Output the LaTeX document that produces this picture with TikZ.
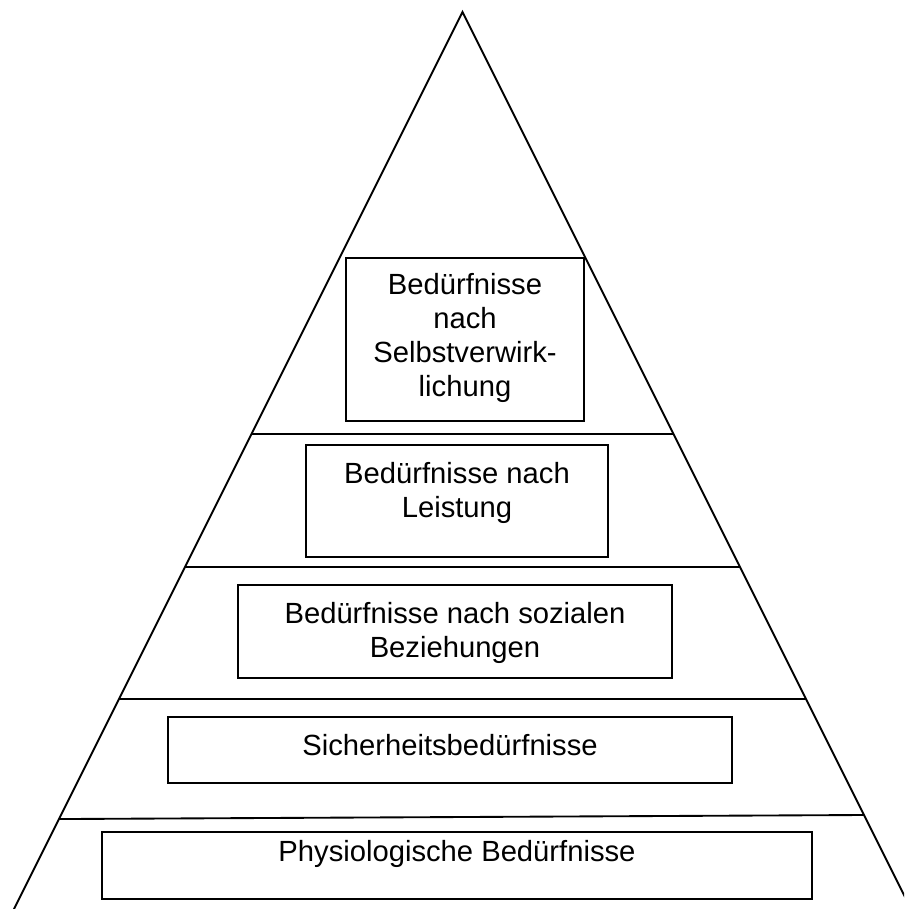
\documentclass[tikz,border=0pt]{standalone}
\usepackage{fontspec}
\setmainfont{Liberation Sans}
\usetikzlibrary{calc}
\begin{document}
\begin{tikzpicture}[x=0.75pt,y=-0.75pt,
  edge/.style={line width=1.4pt,line cap=round,line join=miter},
  level/.style={line width=1.4pt},
  box/.style={draw,line width=1.5pt,inner sep=0pt},
  txt/.style={align=center,anchor=base,inner sep=0pt,
    font=\fontsize{21.9pt}{25.4pt}\selectfont}]
\useasboundingbox (0,0) rectangle (904,909);
\clip (0,0) rectangle (904,909);
% triangle
\coordinate (A) at (462.5,12);
\coordinate (BL) at (14,909);
\coordinate (BR) at (911,909);
\draw[edge] (BL) -- (A) -- (BR);
% level lines
\draw[level] ($(A)!0.4705!(BL)$) -- ($(A)!0.4705!(BR)$);
\draw[level] ($(A)!0.6187!(BL)$) -- ($(A)!0.6187!(BR)$);
\draw[level] ($(A)!0.7659!(BL)$) -- ($(A)!0.7659!(BR)$);
\draw[level] ($(A)!0.8997!(BL)$) -- ($(A)!0.8952!(BR)$);
% boxes
\node[box,minimum width=178.5pt,minimum height=122.25pt] (b1) at (465,339.5) {};
\node[box,minimum width=226.5pt,minimum height=84pt] (b2) at (457,501) {};
\node[box,minimum width=325.5pt,minimum height=69.75pt] (b3) at (455,631.5) {};
\node[box,minimum width=423pt,minimum height=49.5pt] (b4) at (450,750) {};
\node[box,minimum width=532.5pt,minimum height=50.25pt] (b5) at (457,865.5) {};
% texts (base anchor = baseline of the last line)
\node[txt] (t1) at (465,396) {Bedürfnisse\\nach\\Selbstverwirk-\\lichung};
\node[txt] (t2) at (457,517) {Bedürfnisse nach\\Leistung};
\node[txt] (t3) at (455,657) {Bedürfnisse nach sozialen\\Beziehungen};
\node[txt] (t4) at (450,755) {Sicherheitsbedürfnisse};
\node[txt] (t5) at (457,861) {Physiologische Bedürfnisse};
\end{tikzpicture}
\end{document}
